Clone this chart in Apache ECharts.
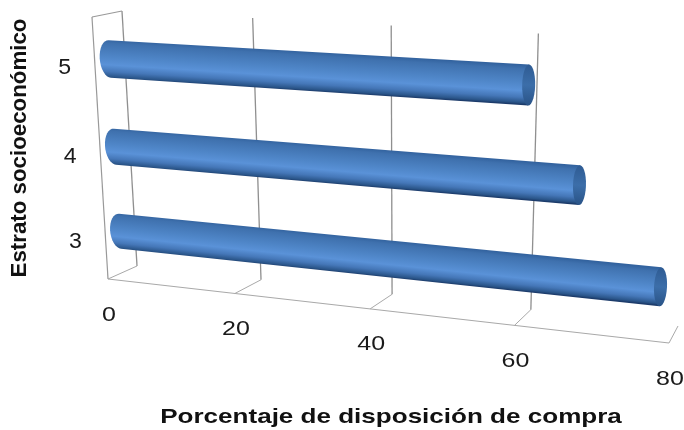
<!DOCTYPE html>
<html>
<head>
<meta charset="utf-8">
<style>html,body{margin:0;padding:0;background:#fff}#c{width:684px;height:430px}</style>
<script src="https://cdn.jsdelivr.net/npm/echarts@6/dist/echarts.min.js"></script>
</head>
<body>
<div id="c"></div>
<script>
// Survey results: purchase willingness by socioeconomic stratum
const categories = ['3', '4', '5'];
const values = [78, 67, 60];
const xTicks = [0, 20, 40, 60, 80];
const wallTicks = [0, 20, 40, 60];
const xTitle = 'Porcentaje de disposición de compra';
const yTitle = 'Estrato socioeconómico';

const W = 684, H = 430;

// Perspective box: the rear and front planes of the 3D chart frame
const backQuad = [[122, 11], [695, 42], [678, 326], [137, 266]];
const frontQuad = [[92, 17], [686, 46], [669, 343], [108, 279]];

// Solve the projective map from the unit square onto a quad
function homography(q) {
  const [[x0, y0], [x1, y1], [x2, y2], [x3, y3]] = q;
  const dx1 = x1 - x2, dx2 = x3 - x2, sx = x0 - x1 + x2 - x3;
  const dy1 = y1 - y2, dy2 = y3 - y2, sy = y0 - y1 + y2 - y3;
  const d = dx1 * dy2 - dx2 * dy1;
  const g = (sx * dy2 - dx2 * sy) / d;
  const h = (dx1 * sy - sx * dy1) / d;
  const a = x1 - x0 + g * x1, b = x3 - x0 + h * x3, c = x0;
  const e = y1 - y0 + g * y1, f = y3 - y0 + h * y3, i = y0;
  return (u, v) => {
    const w = g * u + h * v + 1;
    return [(a * u + b * v + c) / w, (e * u + f * v + i) / w];
  };
}
const mapBack = homography(backQuad);
const mapFront = homography(frontQuad);

// depth: 0 = rear plane, 1 = front plane; pixel comes from the cartesian grid
function project(pixel, depth) {
  const p = mapBack(pixel[0] / W, pixel[1] / H);
  const q = mapFront(pixel[0] / W, pixel[1] / H);
  return [p[0] + (q[0] - p[0]) * depth, p[1] + (q[1] - p[1]) * depth];
}

function line(a, b, stroke, lineWidth) {
  return {
    type: 'line',
    shape: { x1: a[0], y1: a[1], x2: b[0], y2: b[1] },
    style: { stroke, lineWidth, fill: null }
  };
}

// Frame: left wall edges, rear verticals and floor ticks
function renderFrame(params, api) {
  const tick = api.value(0);
  const px = api.coord([tick, 0])[0];
  const topPx = [px, 0], botPx = [px, H];
  const children = [];
  if (wallTicks.includes(tick)) {
    children.push(line(project(topPx, 0), project(botPx, 0), '#8f8f8f', 1.3));
  }
  children.push(line(project(botPx, 1), project(botPx, 0), '#a9a9a9', 1));
  if (tick === 0) {
    children.push(line(project(topPx, 1), project(botPx, 1), '#999', 1.2));
    children.push(line(project(topPx, 1), project(topPx, 0), '#999', 1.2));
    const endPx = api.coord([80, 0])[0];
    children.push(line(project(botPx, 1), project([endPx, H], 1), '#a9a9a9', 1.2));
  }
  return { type: 'group', children };
}

// Ellipse arc around an end of the cylinder
function arc(c, r, axis, rx, from, to, n) {
  const pts = [];
  for (let k = 0; k <= n; k++) {
    const t = from + (to - from) * k / n;
    pts.push([
      c[0] + r[0] * Math.cos(t) + axis[0] * rx * Math.sin(t),
      c[1] + r[1] * Math.cos(t) + axis[1] * rx * Math.sin(t)
    ]);
  }
  return pts;
}

// Horizontal cylinder running down the middle of the box depth
function renderBar(params, api) {
  const val = api.value(0), cat = api.value(1);
  const half = api.size([0, 1])[1] * 0.21;
  const p0 = api.coord([0, cat]), p1 = api.coord([val, cat]);
  const c0 = project(p0, 0.5), c1 = project(p1, 0.5);
  const t0 = project([p0[0], p0[1] - half], 0.5), t1 = project([p1[0], p1[1] - half], 0.5);
  const b0 = project([p0[0], p0[1] + half], 0.5), b1 = project([p1[0], p1[1] + half], 0.5);
  const len = Math.hypot(c1[0] - c0[0], c1[1] - c0[1]);
  const axis = [(c1[0] - c0[0]) / len, (c1[1] - c0[1]) / len];
  const normal = [-axis[1], axis[0]];
  const r0 = [(t0[0] - b0[0]) / 2, (t0[1] - b0[1]) / 2];
  const r1 = [(t1[0] - b1[0]) / 2, (t1[1] - b1[1]) / 2];
  const mid = [(c0[0] + c1[0]) / 2, (c0[1] + c1[1]) / 2];
  const rad = Math.hypot(r0[0] + r1[0], r0[1] + r1[1]) / 2;
  const grad = (stops) => new echarts.graphic.LinearGradient(
    mid[0] - normal[0] * rad, mid[1] - normal[1] * rad,
    mid[0] + normal[0] * rad, mid[1] + normal[1] * rad, stops, true);

  const leftCap = arc(c0, r0, axis, -10, Math.PI, 0, 16);
  const body = [t1, b1].concat(leftCap);
  const cap = arc(c1, r1, axis, 6.5, 0, Math.PI * 2, 28);
  return {
    type: 'group',
    children: [
      {
        type: 'polygon',
        shape: { points: body },
        style: {
          fill: grad([
            { offset: 0, color: '#33639f' },
            { offset: 0.1, color: '#3f71ae' },
            { offset: 0.45, color: '#4f86c8' },
            { offset: 0.65, color: '#5a92d8' },
            { offset: 0.82, color: '#4577b8' },
            { offset: 0.95, color: '#2a5589' },
            { offset: 1, color: '#1c3b6a' }
          ])
        }
      },
      {
        type: 'polygon',
        shape: { points: cap },
        style: {
          fill: grad([
            { offset: 0, color: '#2f5c94' },
            { offset: 0.5, color: '#3c6ea9' },
            { offset: 1, color: '#2a5488' }
          ])
        }
      }
    ]
  };
}

// Tick text follows the projected floor and left wall
function renderXLabel(params, api) {
  const tick = api.value(0);
  const p = project([api.coord([tick, 0])[0], H], 1);
  return {
    type: 'text', x: p[0] + 1, y: p[1] + 36, scaleX: 1.25,
    style: { text: String(tick), font: '20px "Liberation Sans"', fill: '#1a1a1a',
      textAlign: 'center', textVerticalAlign: 'middle' }
  };
}
function renderYLabel(params, api) {
  const cat = api.value(0);
  const p = project(api.coord([0, cat]), 1);
  return {
    type: 'text', x: p[0] - 30, y: p[1] + 5, scaleX: 1.05,
    style: { text: categories[cat], font: '22px "Liberation Sans"', fill: '#1a1a1a',
      textAlign: 'center', textVerticalAlign: 'middle' }
  };
}

const chart = echarts.init(document.getElementById('c'), null, { renderer: 'canvas' });
chart.setOption({
  animation: false,
  backgroundColor: '#fff',
  grid: { left: 0, right: 0, top: 0, bottom: 0 },
  xAxis: { type: 'value', min: 0, max: 80, interval: 20, show: false },
  yAxis: { type: 'category', data: categories, show: false },
  series: [
    { type: 'custom', name: 'frame', renderItem: renderFrame, data: xTicks.map(t => [t]), z: 1, silent: true },
    { type: 'custom', name: 'Porcentaje', renderItem: renderBar, z: 2,
      encode: { x: 0, y: 1 }, data: values.map((v, i) => [v, i]) },
    { type: 'custom', name: 'xLabels', renderItem: renderXLabel, data: xTicks.map(t => [t]), z: 3, silent: true },
    { type: 'custom', name: 'yLabels', renderItem: renderYLabel, data: categories.map((c, i) => [i]), z: 3, silent: true }
  ],
  graphic: [
    {
      type: 'text', x: 391, y: 417, scaleX: 1.24, z: 10,
      style: { text: xTitle, font: 'bold 21px "Liberation Sans"', fill: '#111',
        textAlign: 'center', textVerticalAlign: 'middle' }
    },
    {
      type: 'text', x: 20, y: 148, rotation: Math.PI / 2, z: 10,
      style: { text: yTitle, font: 'bold 22.3px "Liberation Sans"', fill: '#111',
        textAlign: 'center', textVerticalAlign: 'middle' }
    }
  ]
});
</script>
</body>
</html>
